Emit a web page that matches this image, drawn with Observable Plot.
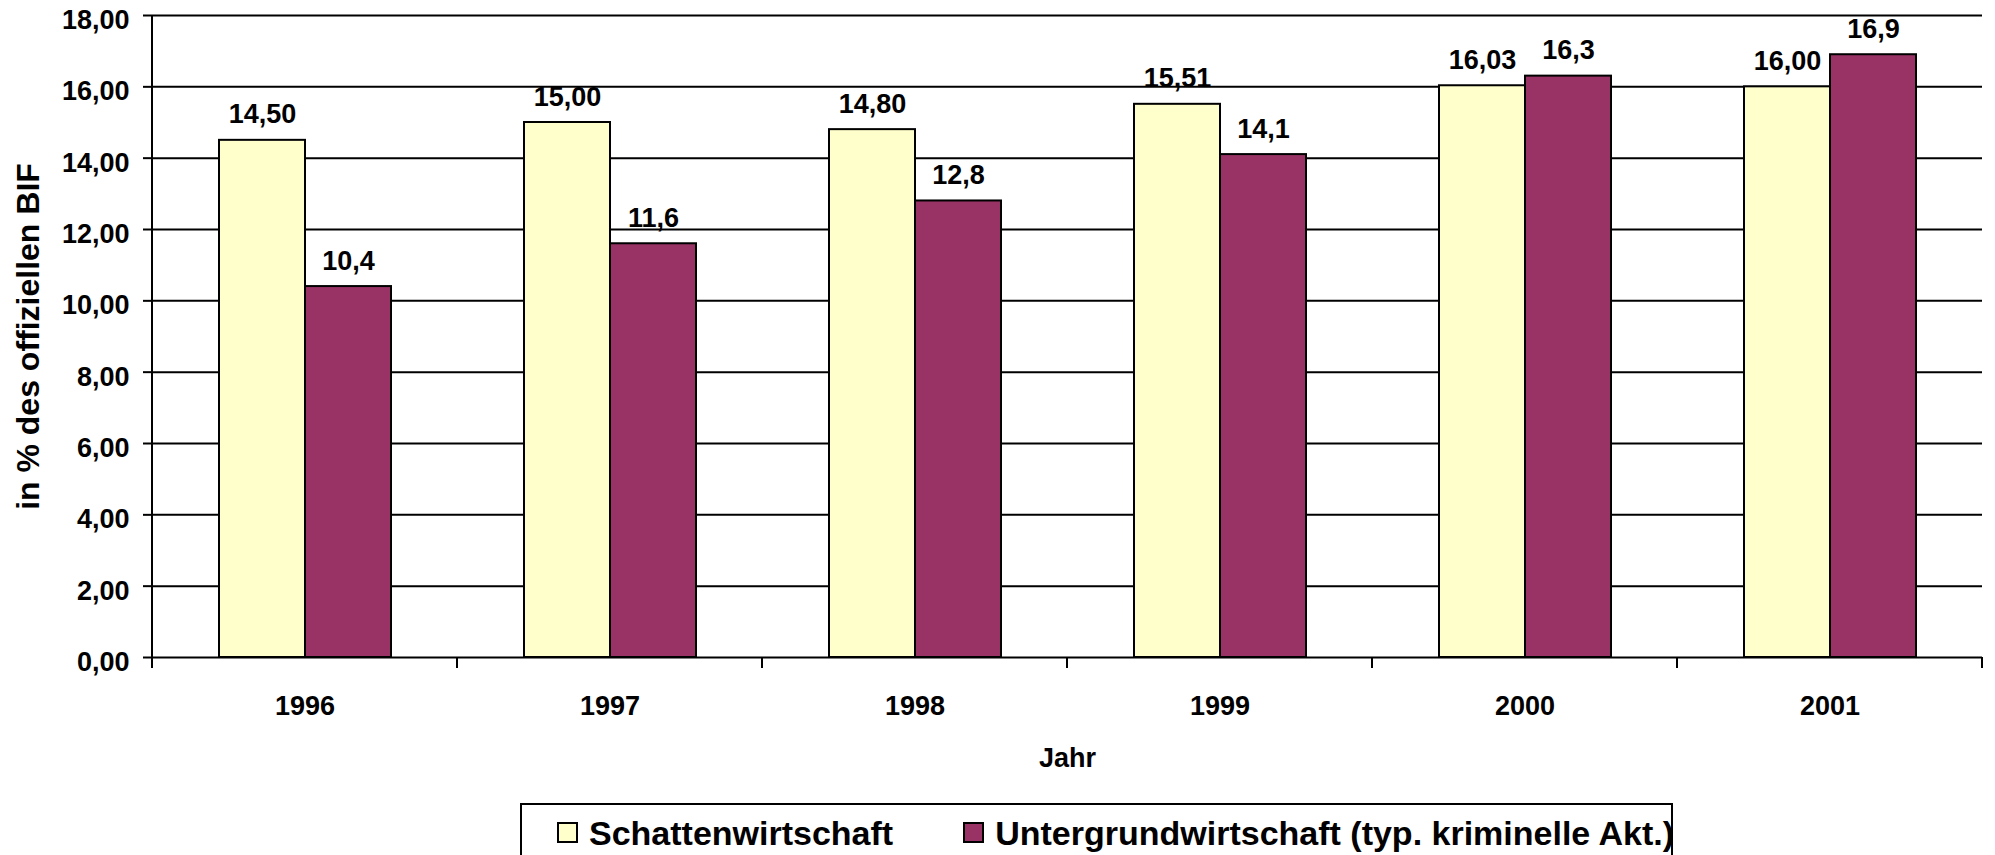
<!DOCTYPE html>
<html>
<head>
<meta charset="utf-8">
<script src="https://cdn.jsdelivr.net/npm/d3@7"></script>
<script src="https://cdn.jsdelivr.net/npm/@observablehq/plot@0.6"></script>
<style>
  html, body { margin: 0; padding: 0; background: #fff; }
  body { width: 1995px; height: 855px; overflow: hidden; position: relative;
         font-family: 'Liberation Sans', Arial, sans-serif; font-weight: bold; color: #000; }
  #chart svg { display: block; }
  #legend { position: absolute; left: 520px; top: 803px; width: 1153px; height: 80px;
            border: 2px solid #000; box-sizing: border-box; display: flex; align-items: flex-start;
            padding-left: 35px; }
  .item { display: flex; align-items: flex-start; margin-right: 70px; }
  .sw { width: 21px; height: 21px; border: 2px solid #000; box-sizing: border-box; margin-top: 17px; margin-right: 11px; }
  .lt { font-size: 34px; line-height: 34px; margin-top: 11px; white-space: nowrap; }
</style>
</head>
<body>
<div id="chart"></div>
<div id="legend"></div>
<script>
// ---- data ----
const years = ["1996", "1997", "1998", "1999", "2000", "2001"];
const seriesNames = ["Schattenwirtschaft", "Untergrundwirtschaft (typ. kriminelle Akt.)"];
const schattenwirtschaft = [14.50, 15.00, 14.80, 15.51, 16.03, 16.00];
const untergrundwirtschaft = [10.4, 11.6, 12.8, 14.1, 16.3, 16.9];
const seriesDecimals = [2, 1];
const seriesColors = ["#FFFFCC", "#993366"];
const yTicks = [0, 2, 4, 6, 8, 10, 12, 14, 16, 18];
const yLabel = "in % des offiziellen BIF";
const xLabel = "Jahr";

const seriesValues = [schattenwirtschaft, untergrundwirtschaft];
const rows = [];
years.forEach((year, i) => {
  seriesNames.forEach((s, j) => {
    rows.push({year, series: s, value: seriesValues[j][i], decimals: seriesDecimals[j]});
  });
});
const fmtComma = (v, d) => v.toFixed(d).replace(".", ",");

const plot = Plot.plot({
  width: 1995,
  height: 800,
  marginLeft: 151,
  marginRight: 13,
  marginTop: 15,
  marginBottom: 143,
  style: {
    fontFamily: "'Liberation Sans', Arial, sans-serif",
    fontWeight: "bold",
    fontSize: "27px",
    color: "#000",
    background: "#fff"
  },
  fx: {domain: years, paddingInner: 0, paddingOuter: 0},
  x: {domain: seriesNames, paddingInner: 0, paddingOuter: 0.753, axis: null},
  y: {domain: [yTicks[0], yTicks[yTicks.length - 1]]},
  color: {domain: seriesNames, range: seriesColors},
  marks: [
    Plot.ruleY(yTicks, {stroke: "#000", strokeWidth: 2}),
    Plot.barY(rows, {fx: "year", x: "series", y: "value", fill: "series", stroke: "#000", strokeWidth: 2}),
    Plot.text(rows, {fx: "year", x: "series", y: "value",
      text: d => fmtComma(d.value, d.decimals), lineAnchor: "bottom", dy: -17}),
    Plot.axisY({ticks: yTicks, tickSize: 9, text: null, label: null, strokeWidth: 2}),
    Plot.axisY({ticks: yTicks, tickSize: 0, tickPadding: 23, dy: 5,
      tickFormat: d => fmtComma(d, 2), label: null}),
    Plot.axisY({ticks: [], tickSize: 0, text: null, fontSize: 32,
      label: yLabel, labelAnchor: "center", labelOffset: 136, labelArrow: "none"}),
    Plot.axisFx({anchor: "bottom", tickSize: 0, tickPadding: 38,
      label: xLabel, labelAnchor: "center", labelOffset: 109, labelArrow: "none"})
  ]
});

// boundary ticks on the category axis and the vertical value axis line, from Plot's scales
const fxScale = plot.scale("fx");
const yScale = plot.scale("y");
const y0 = yScale.apply(yTicks[0]);
const yTop = yScale.apply(yTicks[yTicks.length - 1]);
const bounds = years.map(d => fxScale.apply(d)).concat([fxScale.apply(years[years.length - 1]) + fxScale.bandwidth]);
d3.select(plot).append("g")
  .attr("stroke", "#000").attr("stroke-width", 2)
  .selectAll("line").data(bounds).join("line")
  .attr("x1", d => d).attr("x2", d => d)
  .attr("y1", (d, i) => i === 0 ? yTop : y0)
  .attr("y2", y0 + 11);

document.getElementById("chart").appendChild(plot);

// legend
const legend = d3.select("#legend");
seriesNames.forEach((s, j) => {
  const item = legend.append("div").attr("class", "item");
  item.append("div").attr("class", "sw").style("background", seriesColors[j]);
  item.append("div").attr("class", "lt").text(s);
});
</script>
</body>
</html>
